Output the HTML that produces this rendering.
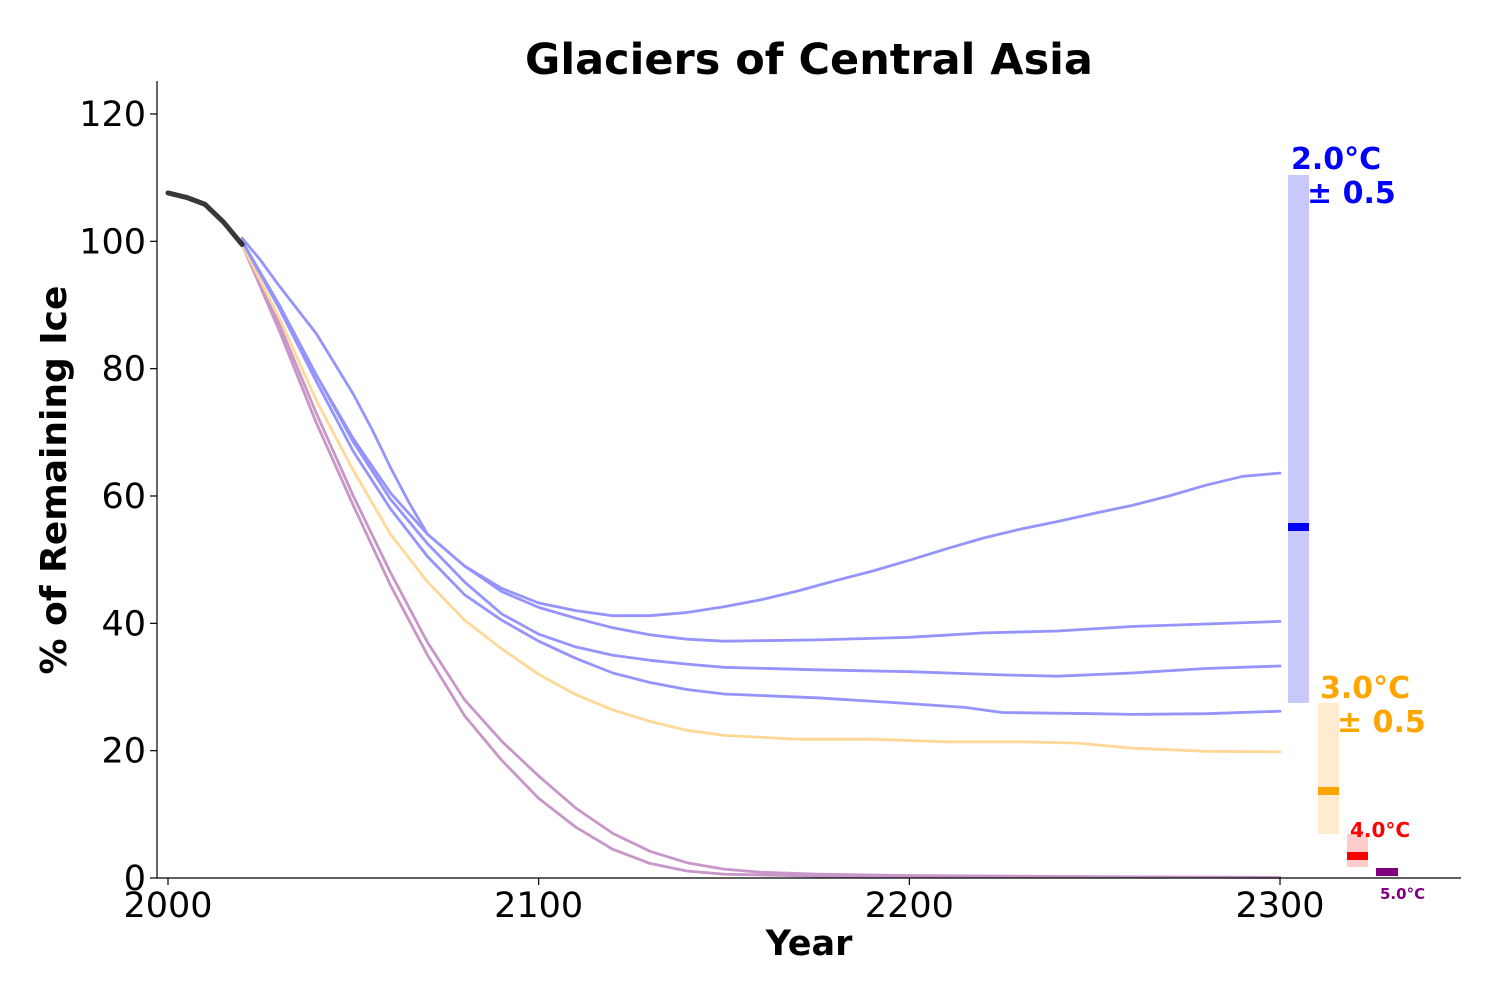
<!DOCTYPE html>
<html><head><meta charset="utf-8"><style>
html,body{margin:0;padding:0;background:#fff;}
svg{display:block;font-family:"DejaVu Sans","Liberation Sans",sans-serif;}
</style></head><body>
<svg id="s" width="1500" height="1000" xmlns="http://www.w3.org/2000/svg">
<text x="809" y="74" font-size="43" font-weight="bold" text-anchor="middle">Glaciers of Central Asia</text>
<g id="plot"></g>
<line x1="157" y1="81" x2="157" y2="878" stroke="#000" stroke-width="1.2"/>
<line x1="157" y1="878" x2="1461" y2="878" stroke="#000" stroke-width="1.2"/>
<g id="ticks" font-size="35"></g>
<text x="809" y="955" font-size="35" font-weight="bold" text-anchor="middle">Year</text>
<text transform="translate(66,480) rotate(-90)" font-size="36" font-weight="bold" text-anchor="middle">% of Remaining Ice</text>
<rect x="1288" y="175" width="21" height="528" fill="#c8c8fb"/>
<rect x="1288" y="523" width="21" height="8" fill="#0000ff"/>
<rect x="1318" y="703" width="21" height="131" fill="#ffecd0"/>
<rect x="1318" y="787" width="21" height="8" fill="#ffa500"/>
<rect x="1347" y="834" width="21" height="33" fill="#ffcccc"/>
<rect x="1347" y="852" width="21" height="8" fill="#ff0000"/>
<rect x="1376" y="868" width="22" height="8" fill="#800080"/>
<text x="1291" y="169" font-size="30" font-weight="bold" fill="#0000ff">2.0°C</text>
<text x="1307" y="203" font-size="30" font-weight="bold" fill="#0000ff">± 0.5</text>
<text x="1320" y="698" font-size="30" font-weight="bold" fill="#ffa500">3.0°C</text>
<text x="1337" y="732" font-size="30" font-weight="bold" fill="#ffa500">± 0.5</text>
<text x="1350" y="837" font-size="20" font-weight="bold" fill="#ff0000">4.0°C</text>
<text x="1380" y="899" font-size="15" font-weight="bold" fill="#800080">5.0°C</text>
</svg>
<script>
var X=function(t){return 168+3.7067*(t-2000)},Y=function(v){return 878-6.3667*v};
var NS="http://www.w3.org/2000/svg",plot=document.getElementById("plot");
function line(d,c,w,o){var p=document.createElementNS(NS,"polyline");var s="";for(var i=0;i<d.length;i+=2)s+=X(d[i]).toFixed(1)+","+Y(d[i+1]).toFixed(1)+" ";p.setAttribute("points",s);p.setAttribute("fill","none");p.setAttribute("stroke",c);p.setAttribute("stroke-width",w);p.setAttribute("stroke-linejoin","round");p.setAttribute("stroke-linecap","round");if(o)p.setAttribute("opacity",o);plot.appendChild(p);}
var B="#9494fc",O="#ffd898",P="#c896c8";
line([2020,100,2030,87,2040,73,2050,60,2060,48,2070,37,2080,28,2090,21.5,2100,16,2110,11,2120,7,2130,4.2,2140,2.4,2150,1.4,2160,0.9,2175,0.6,2200,0.4,2250,0.2,2300,0.1],P,2.8);
line([2020,99.5,2030,86,2040,71.5,2050,58.5,2060,46,2070,35,2080,25.5,2090,18.5,2100,12.5,2110,8,2120,4.5,2130,2.3,2140,1.1,2150,0.6,2175,0.3,2300,0.1],P,2.8);
line([2020,99.5,2030,88,2040,75,2050,64,2060,54,2070,46.5,2080,40.5,2090,36,2100,32,2110,28.8,2120,26.4,2130,24.6,2140,23.2,2150,22.4,2170,21.8,2190,21.8,2210,21.4,2230,21.4,2245,21.2,2260,20.4,2280,19.9,2300,19.8],O,2.8);
line([2020,100.5,2025,97,2030,93,2040,85.5,2050,76,2055,70.5,2060,64.5,2065,59,2070,54,2080,49,2090,45.5,2100,43.2,2110,42,2120,41.2,2130,41.2,2140,41.7,2150,42.6,2160,43.7,2170,45.1,2180,46.7,2190,48.2,2200,49.9,2210,51.7,2220,53.4,2230,54.8,2240,56,2250,57.3,2260,58.5,2270,60,2280,61.7,2290,63.1,2300,63.6],B,2.8);
line([2020,100,2030,90,2040,79,2050,69,2060,60.5,2070,54,2080,49,2090,45,2100,42.5,2110,40.8,2120,39.3,2130,38.2,2140,37.5,2150,37.2,2175,37.4,2200,37.8,2220,38.5,2240,38.8,2260,39.5,2280,39.9,2300,40.3],B,2.8);
line([2020,100,2030,90,2040,79,2050,68.5,2060,59.5,2070,52.5,2080,46.5,2090,41.5,2100,38.3,2110,36.3,2120,35,2130,34.2,2140,33.6,2150,33.1,2175,32.7,2200,32.4,2225,31.9,2240,31.7,2260,32.2,2280,32.9,2300,33.3],B,2.8);
line([2020,100,2030,89.5,2040,78,2050,67,2060,58,2070,50.5,2080,44.5,2090,40.5,2100,37.2,2110,34.5,2120,32.2,2130,30.7,2140,29.6,2150,28.9,2175,28.3,2200,27.4,2215,26.8,2225,26,2250,25.8,2260,25.7,2280,25.8,2300,26.2],B,2.8);
line([2000,107.6,2005,106.9,2010,105.8,2015,103,2020,99.5],"#222",5,0.9);
var tk=document.getElementById("ticks");
function el(n,a,t){var e=document.createElementNS(NS,n);for(var k in a)e.setAttribute(k,a[k]);if(t!=null)e.textContent=t;tk.appendChild(e);}
for(var v=0;v<=120;v+=20){var y=Y(v);el("line",{x1:150,y1:y,x2:157,y2:y,stroke:"#000","stroke-width":1.2});el("text",{x:146,y:y+12,"text-anchor":"end"},v);}
for(var t=2000;t<=2300;t+=100){var x=X(t);el("line",{x1:x,y1:878,x2:x,y2:885,stroke:"#000","stroke-width":1.2});el("text",{x:x,y:917,"text-anchor":"middle"},t);}
</script>
</body></html>
